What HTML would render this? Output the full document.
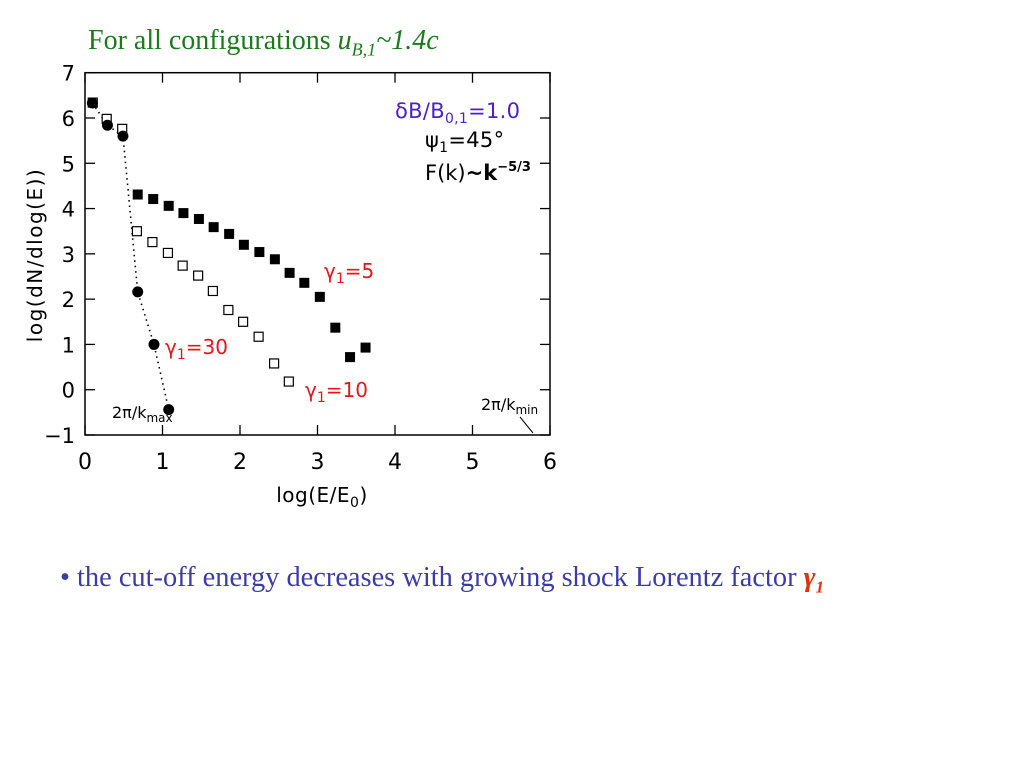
<!DOCTYPE html>
<html><head><meta charset="utf-8">
<style>
body{margin:0;width:1024px;height:768px;background:#fff;overflow:hidden;position:relative}
.t{position:absolute;font-family:"Liberation Serif",serif;white-space:nowrap}
</style></head><body>
<div class="t" style="left:88px;top:25px;font-size:28px;color:#1b7a1b">For all configurations <i>u<sub style="font-size:18px">B,1</sub>~1.4c</i></div>
<div class="t" style="left:60px;top:562px;font-size:28.4px;color:#3c3ca8">• the cut-off energy decreases with growing shock Lorentz factor <i style="color:#e53000;font-weight:bold">γ<sub style="font-size:17px">1</sub></i></div>
<svg id="c" width="1024" height="768" style="position:absolute;left:0;top:0" font-family="DejaVu Sans, Liberation Sans, sans-serif"></svg>
<script>
const xTicks=[0,1,2,3,4,5,6];
const yTicks=[-1,0,1,2,3,4,5,6,7];
const g5X=[0.68,0.88,1.08,1.27,1.47,1.66,1.86,2.05,2.25,2.45,2.64,2.83,3.03,3.23,3.42,3.62];
const g5Y=[4.31,4.21,4.06,3.90,3.77,3.59,3.44,3.20,3.04,2.88,2.58,2.36,2.05,1.37,0.72,0.93];
const g10X=[0.10,0.28,0.48,0.67,0.87,1.07,1.26,1.46,1.65,1.85,2.04,2.24,2.44,2.63];
const g10Y=[6.34,5.98,5.76,3.50,3.26,3.02,2.74,2.52,2.18,1.76,1.50,1.17,0.58,0.18];
const g30X=[0.095,0.29,0.49,0.68,0.89,1.08];
const g30Y=[6.33,5.84,5.60,2.16,1.00,-0.44];
const L=85,R=550,T=72.7,B=435;
const sx=v=>L+(v-0)/6*(R-L), sy=v=>B-(v+1)/8*(B-T);
const svg=document.getElementById('c');const NS='http://www.w3.org/2000/svg';
function mk(tag,a,txt){const e=document.createElementNS(NS,tag);for(const k in a)e.setAttribute(k,a[k]);if(txt!==undefined)e.textContent=txt;svg.appendChild(e);return e;}
let e=mk('rect',{x:L,y:T,width:R-L,height:B-T,fill:'none',stroke:'#000','stroke-width':1.5});


xTicks.forEach(v=>{const x=sx(v);
 mk('line',{x1:x,x2:x,y1:B,y2:B-10,stroke:'#000','stroke-width':1.3});
 mk('line',{x1:x,x2:x,y1:T,y2:T+10,stroke:'#000','stroke-width':1.3});
 e=mk('text',{x:x,y:B+34,'font-size':22,'text-anchor':'middle'},String(v));
 
 });
yTicks.forEach(v=>{const y=sy(v);
 mk('line',{x1:L,x2:L+10,y1:y,y2:y,stroke:'#000','stroke-width':1.3});
 mk('line',{x1:R,x2:R-10,y1:y,y2:y,stroke:'#000','stroke-width':1.3});
 e=mk('text',{x:L-10,y:y+8,'font-size':21,'text-anchor':'end'},v<0?'\u2212'+(-v):String(v));
 
 });
e=mk('text',{x:322,y:502,'font-size':20,'letter-spacing':0.5,'text-anchor':'middle'});e.innerHTML='log(E/E<tspan font-size="14" dy="5">0</tspan><tspan dy="-5">)</tspan>';


e=mk('text',{x:0,y:0,'font-size':20,'letter-spacing':1.5,'text-anchor':'middle',transform:'translate(42,255) rotate(-90)'},'log(dN/dlog(E))');


let pts=g30X.map((x,i)=>sx(x)+','+sy(g30Y[i])).join(' ');
e=mk('polyline',{points:pts,fill:'none',stroke:'#000','stroke-width':1.6,'stroke-dasharray':'1.5,4'});


g10X.forEach((x,i)=>{e=mk('rect',{x:sx(x)-4.5,y:sy(g10Y[i])-4.5,width:9,height:9,fill:'#fff',stroke:'#000','stroke-width':1.2});
 
 });
g5X.forEach((x,i)=>{e=mk('rect',{x:sx(x)-5,y:sy(g5Y[i])-5,width:10,height:10,fill:'#000'});
 
 });
g30X.forEach((x,i)=>{e=mk('circle',{cx:sx(x),cy:sy(g30Y[i]),r:5.5,fill:'#000'});
 
 });
function lab(x,y,html,name,col,fs,ls){const t=mk('text',{x:x,y:y,'font-size':fs||20,fill:col||'#000','letter-spacing':ls===undefined?0:ls});t.innerHTML=html;return t;}
lab(324,278,'γ<tspan font-size="14" dy="5">1</tspan><tspan dy="-5">=5</tspan>','gamma5-label','#e8141c');
lab(165,354,'γ<tspan font-size="14" dy="5">1</tspan><tspan dy="-5">=30</tspan>','gamma30-label','#e8141c');
lab(305,397,'γ<tspan font-size="14" dy="5">1</tspan><tspan dy="-5">=10</tspan>','gamma10-label','#e8141c');
lab(395,118,'δB/B<tspan font-size="14" dy="5">0,1</tspan><tspan dy="-5">=1.0</tspan>','deltaB-label','#4a22c8',21,0.3);
lab(425,147,'ψ<tspan font-size="14" dy="5">1</tspan><tspan dy="-5">=45°</tspan>','psi-label','#000',21,0.3);
lab(425,180,'F(k)<tspan font-weight="bold">~k</tspan><tspan font-size="13" dy="-9" font-weight="bold">−5/3</tspan>','spectrum-label','#000',21,0);
lab(112,418,'2π/k<tspan font-size="12" dy="4">max</tspan>','kmax-label','#000',16,0);
lab(481,410,'2π/k<tspan font-size="12" dy="4">min</tspan>','kmin-label','#000',16,0);
e=mk('line',{x1:520,y1:417,x2:533,y2:433,stroke:'#000','stroke-width':1});


</script>
</body></html>
